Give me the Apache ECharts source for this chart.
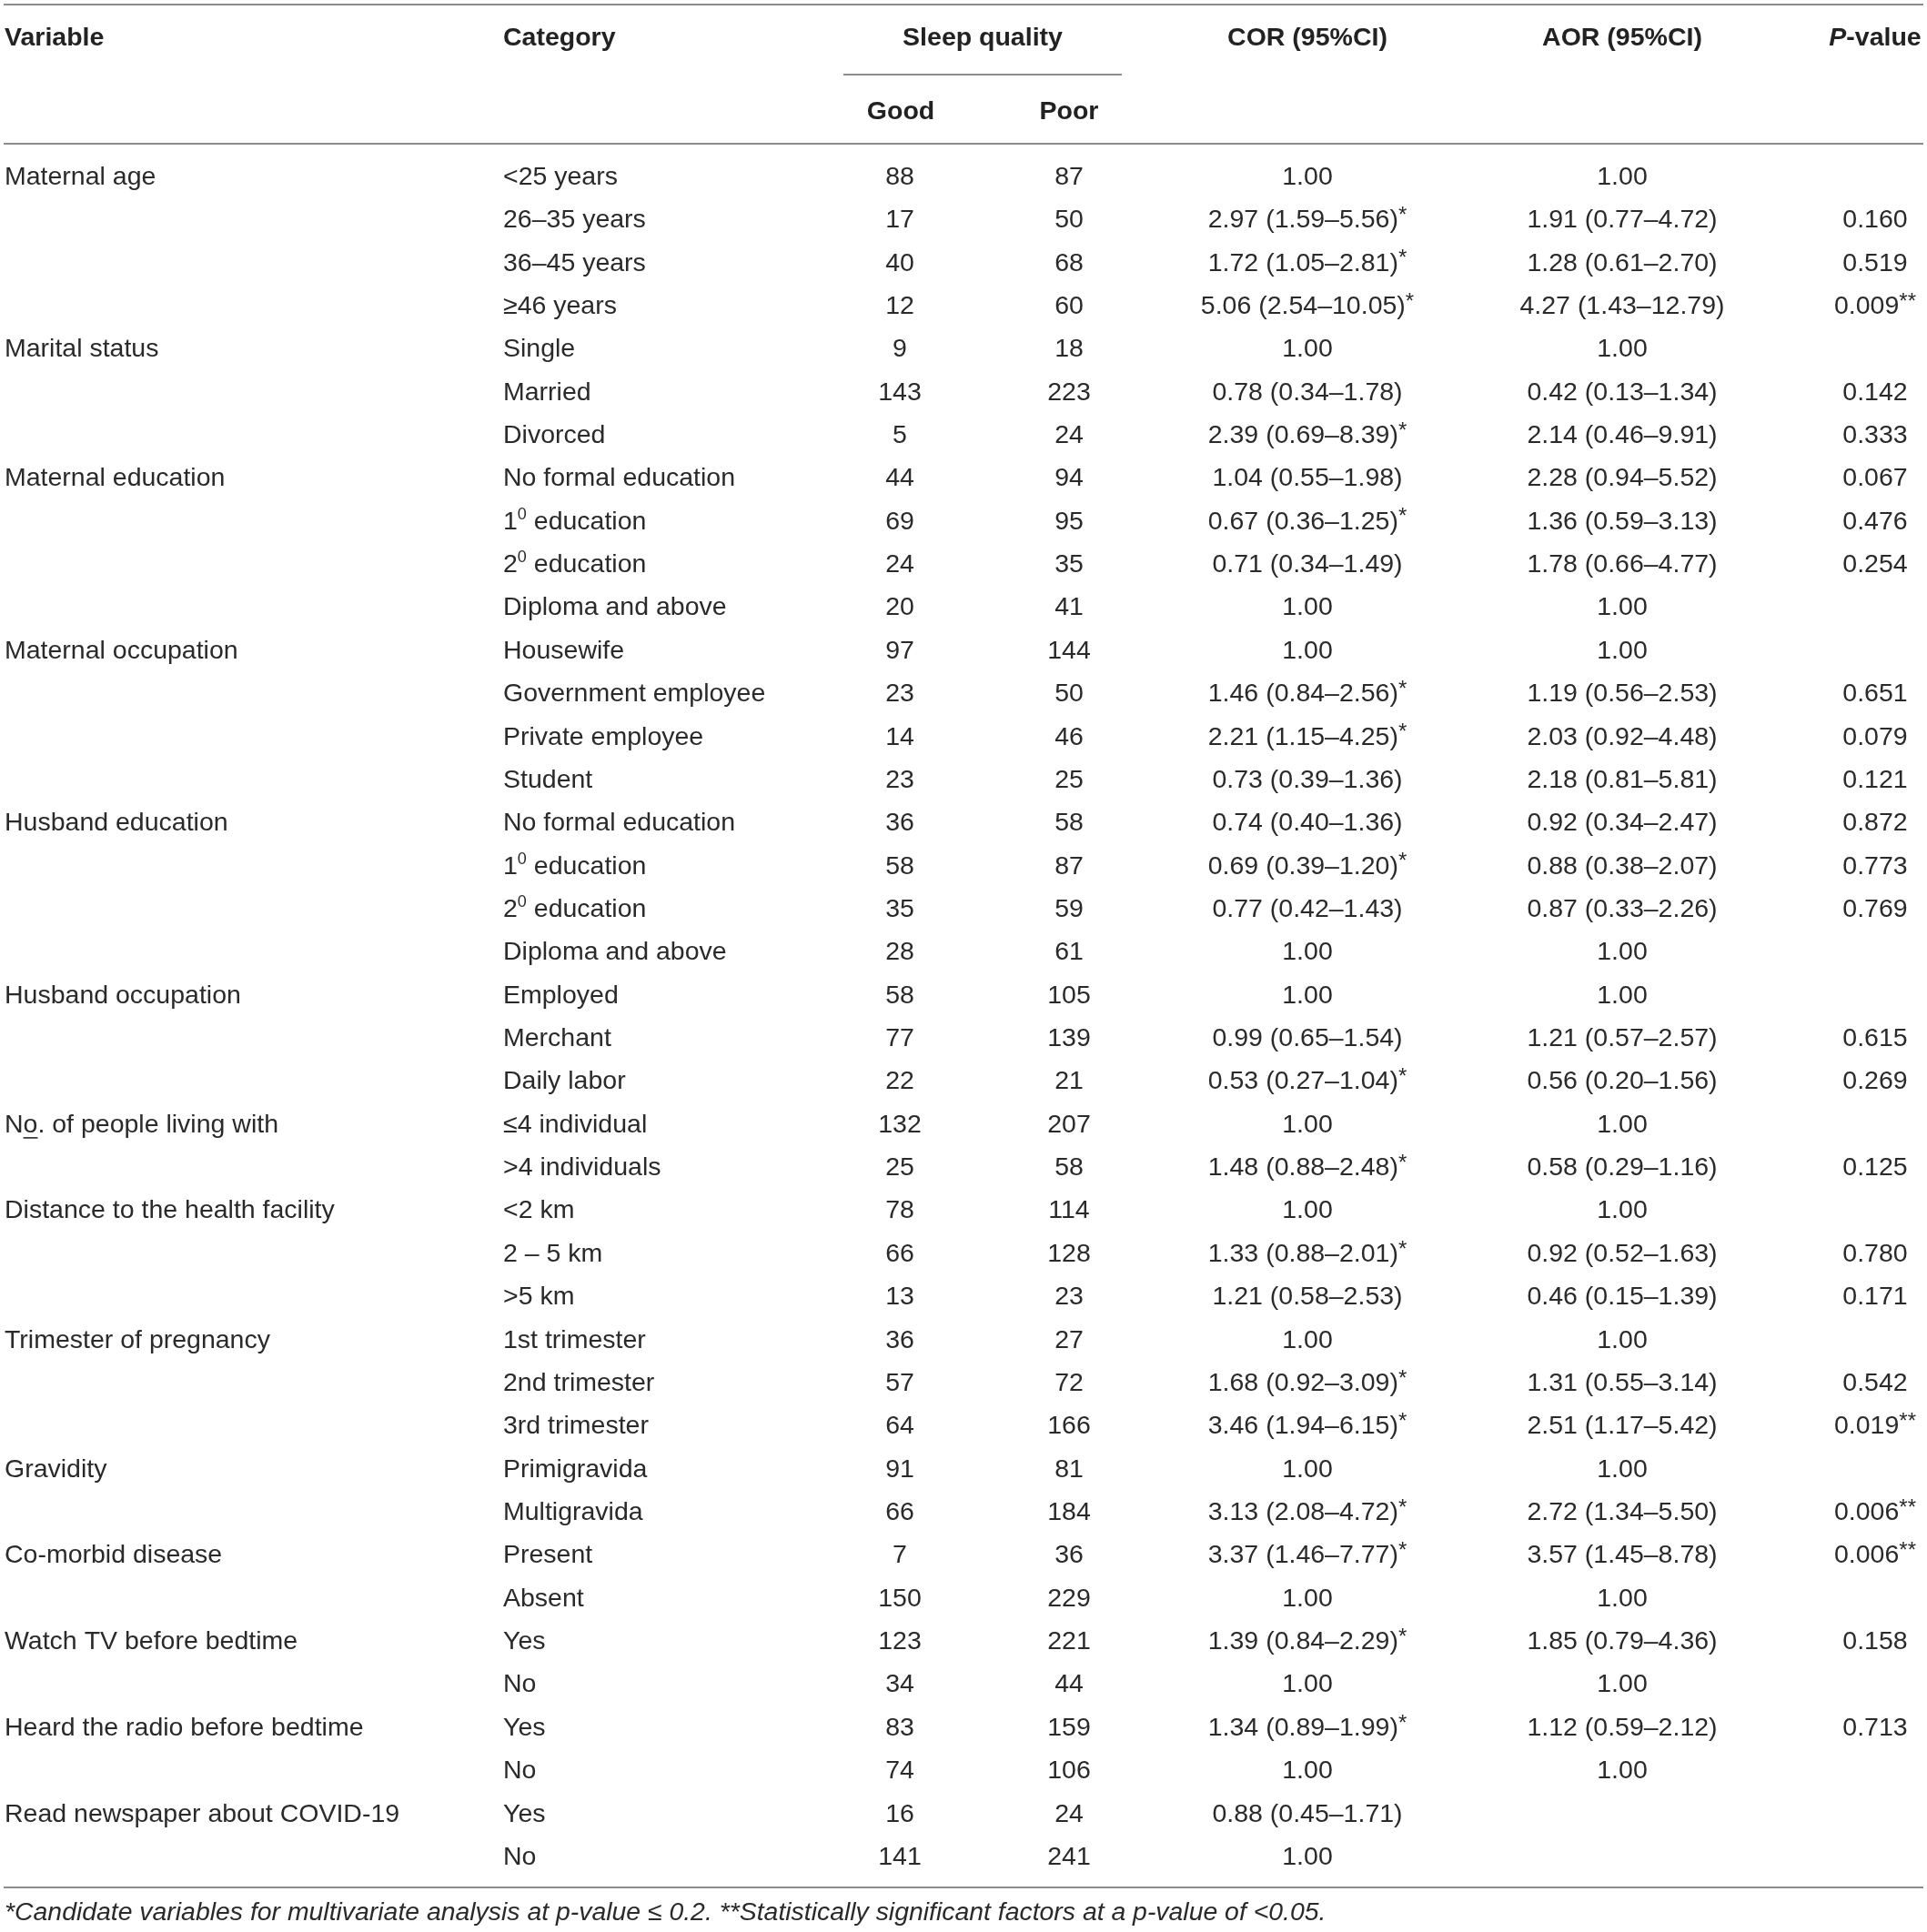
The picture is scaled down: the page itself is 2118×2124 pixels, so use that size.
<!DOCTYPE html>
<html>
<head>
<meta charset="utf-8">
<title>Sleep quality table</title>
<script src="https://cdn.jsdelivr.net/npm/echarts@6/dist/echarts.min.js"></script>
<style>
  html, body { margin: 0; padding: 0; background: #fff; }
  #main { width: 2118px; height: 2124px; }
</style>
</head>
<body>
<div id="main"></div>
<script>
// table content, one entry per row ("^0" = superscript zero, "_o_" = underlined o)
var variableNames = [
  'Maternal age', '', '', '',
  'Marital status', '', '',
  'Maternal education', '', '', '',
  'Maternal occupation', '', '', '',
  'Husband education', '', '', '',
  'Husband occupation', '', '',
  'N_o_. of people living with', '',
  'Distance to the health facility', '', '',
  'Trimester of pregnancy', '', '',
  'Gravidity', '',
  'Co-morbid disease', '',
  'Watch TV before bedtime', '',
  'Heard the radio before bedtime', '',
  'Read newspaper about COVID-19', ''
];
var categories = [
  '<25 years', '26–35 years', '36–45 years', '≥46 years',
  'Single', 'Married', 'Divorced',
  'No formal education', '1^0 education', '2^0 education', 'Diploma and above',
  'Housewife', 'Government employee', 'Private employee', 'Student',
  'No formal education', '1^0 education', '2^0 education', 'Diploma and above',
  'Employed', 'Merchant', 'Daily labor',
  '≤4 individual', '>4 individuals',
  '<2 km', '2 – 5 km', '>5 km',
  '1st trimester', '2nd trimester', '3rd trimester',
  'Primigravida', 'Multigravida',
  'Present', 'Absent',
  'Yes', 'No',
  'Yes', 'No',
  'Yes', 'No'
];
var goodSleep = [88, 17, 40, 12, 9, 143, 5, 44, 69, 24, 20, 97, 23, 14, 23, 36, 58, 35, 28, 58,
  77, 22, 132, 25, 78, 66, 13, 36, 57, 64, 91, 66, 7, 150, 123, 34, 83, 74, 16, 141];
var poorSleep = [87, 50, 68, 60, 18, 223, 24, 94, 95, 35, 41, 144, 50, 46, 25, 58, 87, 59, 61, 105,
  139, 21, 207, 58, 114, 128, 23, 27, 72, 166, 81, 184, 36, 229, 221, 44, 159, 106, 24, 241];
var corValues = [
  '1.00', '2.97 (1.59–5.56)*', '1.72 (1.05–2.81)*', '5.06 (2.54–10.05)*',
  '1.00', '0.78 (0.34–1.78)', '2.39 (0.69–8.39)*',
  '1.04 (0.55–1.98)', '0.67 (0.36–1.25)*', '0.71 (0.34–1.49)', '1.00',
  '1.00', '1.46 (0.84–2.56)*', '2.21 (1.15–4.25)*', '0.73 (0.39–1.36)',
  '0.74 (0.40–1.36)', '0.69 (0.39–1.20)*', '0.77 (0.42–1.43)', '1.00',
  '1.00', '0.99 (0.65–1.54)', '0.53 (0.27–1.04)*',
  '1.00', '1.48 (0.88–2.48)*',
  '1.00', '1.33 (0.88–2.01)*', '1.21 (0.58–2.53)',
  '1.00', '1.68 (0.92–3.09)*', '3.46 (1.94–6.15)*',
  '1.00', '3.13 (2.08–4.72)*',
  '3.37 (1.46–7.77)*', '1.00',
  '1.39 (0.84–2.29)*', '1.00',
  '1.34 (0.89–1.99)*', '1.00',
  '0.88 (0.45–1.71)', '1.00'
];
var aorValues = [
  '1.00', '1.91 (0.77–4.72)', '1.28 (0.61–2.70)', '4.27 (1.43–12.79)',
  '1.00', '0.42 (0.13–1.34)', '2.14 (0.46–9.91)',
  '2.28 (0.94–5.52)', '1.36 (0.59–3.13)', '1.78 (0.66–4.77)', '1.00',
  '1.00', '1.19 (0.56–2.53)', '2.03 (0.92–4.48)', '2.18 (0.81–5.81)',
  '0.92 (0.34–2.47)', '0.88 (0.38–2.07)', '0.87 (0.33–2.26)', '1.00',
  '1.00', '1.21 (0.57–2.57)', '0.56 (0.20–1.56)',
  '1.00', '0.58 (0.29–1.16)',
  '1.00', '0.92 (0.52–1.63)', '0.46 (0.15–1.39)',
  '1.00', '1.31 (0.55–3.14)', '2.51 (1.17–5.42)',
  '1.00', '2.72 (1.34–5.50)',
  '3.57 (1.45–8.78)', '1.00',
  '1.85 (0.79–4.36)', '1.00',
  '1.12 (0.59–2.12)', '1.00',
  '', ''
];
var pValues = [
  '', '0.160', '0.519', '0.009**',
  '', '0.142', '0.333',
  '0.067', '0.476', '0.254', '',
  '', '0.651', '0.079', '0.121',
  '0.872', '0.773', '0.769', '',
  '', '0.615', '0.269',
  '', '0.125',
  '', '0.780', '0.171',
  '', '0.542', '0.019**',
  '', '0.006**',
  '0.006**', '',
  '0.158', '',
  '0.713', '',
  '', ''
];
var footnote = '*Candidate variables for multivariate analysis at p-value ≤ 0.2. **Statistically significant factors at a p-value of <0.05.';

(function() {
	var FONT = '"Liberation Sans", Arial, sans-serif';
	var INK = '#2a2a2a';
	var RULE = '#8c8c8c';
	var SIZE = 28.5;
	var rowIds = categories.map(function(c, i){ return String(i); });

	var richStyles = {
		s: { fontSize: 18, lineHeight: 25, verticalAlign: 'top', fontFamily: FONT, fill: INK },
		a: { fontSize: 24, lineHeight: 30, verticalAlign: 'top', fontFamily: FONT, fill: INK }
	};

	// "^0" becomes a small raised zero, trailing asterisks are set slightly smaller
	function toRich(txt){
		return String(txt)
			.replace(/\^0/g, '{s|0}')
			.replace(/(\*+)$/, '{a|$1}');
	}

	var measure = document.createElement('canvas').getContext('2d');
	measure.font = SIZE + 'px ' + FONT;

	function textColumn(values, xPos, align){
		return {
			type: 'custom',
			coordinateSystem: 'cartesian2d',
			silent: true,
			animation: false,
			data: values.map(function(v, i){ return [xPos, i]; }),
			encode: { x: 0, y: 1 },
			renderItem: function(params, api){
				var idx = params.dataIndex;
				var raw = values[idx];
				if (raw === '' || raw == null) return;
				var p = api.coord([xPos, idx]);
				var txt = String(raw);
				var mark = txt.indexOf('_o_');
				var plain = txt.replace('_o_', 'o');
				var el = {
					type: 'text',
					x: p[0], y: p[1],
					style: {
						text: toRich(plain),
						align: align,
						verticalAlign: 'middle',
						fontSize: SIZE,
						lineHeight: 34,
						fontFamily: FONT,
						fill: INK,
						rich: richStyles
					}
				};
				if (mark < 0) return el;
				var x0 = p[0] + measure.measureText(plain.slice(0, mark)).width;
				var x1 = x0 + measure.measureText('o').width;
				return {
					type: 'group',
					children: [el, {
						type: 'line',
						shape: { x1: x0, y1: p[1] + 14, x2: x1, y2: p[1] + 14 },
						style: { stroke: INK, lineWidth: 1.6 }
					}]
				};
			}
		};
	}

	function headText(txt, x, y, align){
		return {
			type: 'text', x: x, y: y, silent: true,
			style: {
				text: txt, align: align, verticalAlign: 'middle',
				fontSize: SIZE, fontWeight: 'bold', fontFamily: FONT, fill: '#222',
				rich: { i: { fontSize: SIZE, fontWeight: 'bold', fontStyle: 'italic', fontFamily: FONT, fill: '#222' } }
			}
		};
	}

	function rule(x1, x2, y){
		return {
			type: 'line', silent: true,
			shape: { x1: x1, y1: y, x2: x2, y2: y },
			style: { stroke: RULE, lineWidth: 2 }
		};
	}

	var chart = echarts.init(document.getElementById('main'), null, { renderer: 'canvas' });
	chart.setOption({
		backgroundColor: '#fff',
		animation: false,
		grid: { left: 0, right: 0, top: 171.3, bottom: 58.3 },
		xAxis: { type: 'value', min: 0, max: 2118, show: false },
		yAxis: { type: 'category', data: rowIds, inverse: true, show: false },
		series: [
			textColumn(variableNames, 5, 'left'),
			textColumn(categories, 553, 'left'),
			textColumn(goodSleep, 989, 'center'),
			textColumn(poorSleep, 1175, 'center'),
			textColumn(corValues, 1437, 'center'),
			textColumn(aorValues, 1783, 'center'),
			textColumn(pValues, 2061, 'center')
		],
		graphic: [
			rule(4, 2114, 5),
			headText('Variable', 5, 42, 'left'),
			headText('Category', 553, 42, 'left'),
			headText('Sleep quality', 1080, 42, 'center'),
			headText('COR (95%CI)', 1437, 42, 'center'),
			headText('AOR (95%CI)', 1783, 42, 'center'),
			headText('{i|P}-value', 2061, 42, 'center'),
			rule(927, 1233, 82),
			headText('Good', 990, 123, 'center'),
			headText('Poor', 1175, 123, 'center'),
			rule(4, 2114, 158),
			rule(4, 2114, 2075),
			{
				type: 'text', x: 5, y: 2103, silent: true,
				style: {
					text: footnote, align: 'left', verticalAlign: 'middle',
					fontSize: 28.4, fontStyle: 'italic', fontFamily: FONT, fill: INK
				}
			}
		]
	});
})();
</script>
</body>
</html>
